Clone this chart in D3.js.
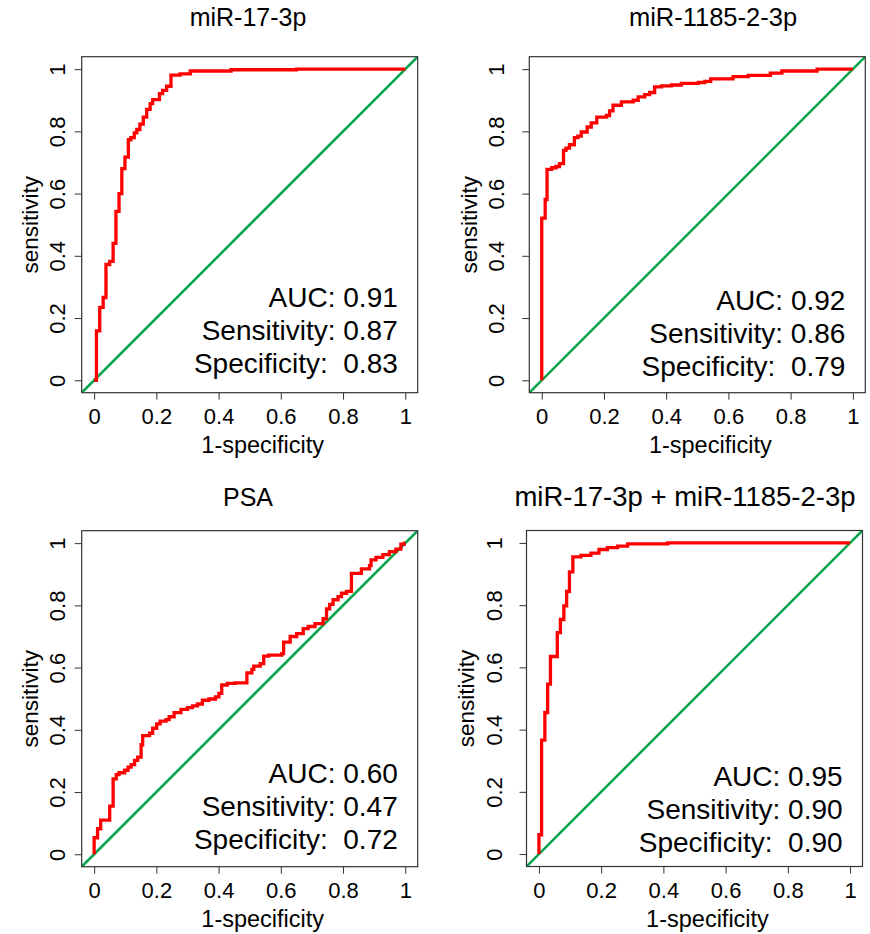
<!DOCTYPE html>
<html>
<head>
<meta charset="utf-8" />
<title>ROC curves</title>
<script src="https://d3js.org/d3.v7.min.js"></script>
<style>
  body { margin: 0; background: white; }
  text { font-family: "Liberation Sans", Arial, Helvetica, sans-serif; fill: black; }
</style>
</head>
<body>
<svg id="roc" width="870" height="934"></svg>

<script>
// panel titles
var titles = ["miR-17-3p", "miR-1185-2-3p", "PSA", "miR-17-3p + miR-1185-2-3p"];

// axis ticks
var tickValues = [0, 0.2, 0.4, 0.6, 0.8, 1];
var tickLabels = ["0", "0.2", "0.4", "0.6", "0.8", "1"];

// ROC steps: 1-specificity and sensitivity
var fpr17 = [0, 0.0075, 0.018, 0.029, 0.038, 0.05, 0.061, 0.07, 0.08, 0.089, 0.099, 0.11, 0.118, 0.129, 0.137, 0.147, 0.158, 0.169, 0.18, 0.188, 0.21, 0.22, 0.233, 0.247, 0.276, 0.309, 0.44, 0.65, 1];
var tpr17 = [0, 0.159, 0.234, 0.266, 0.372, 0.382, 0.44, 0.543, 0.60, 0.68, 0.717, 0.773, 0.78, 0.795, 0.806, 0.823, 0.846, 0.871, 0.889, 0.902, 0.921, 0.932, 0.945, 0.981, 0.985, 0.994, 0.998, 1, 1];

var fpr1185 = [0, 0, 0.011, 0.017, 0.032, 0.046, 0.057, 0.07, 0.078, 0.089, 0.105, 0.116, 0.127, 0.146, 0.159, 0.177, 0.208, 0.218, 0.229, 0.256, 0.294, 0.31, 0.331, 0.347, 0.363, 0.385, 0.417, 0.449, 0.503, 0.524, 0.543, 0.615, 0.664, 0.735, 0.772, 0.885, 1];
var tpr1185 = [0, 0.521, 0.581, 0.678, 0.683, 0.687, 0.696, 0.739, 0.746, 0.757, 0.78, 0.785, 0.798, 0.814, 0.827, 0.846, 0.851, 0.866, 0.884, 0.895, 0.9, 0.911, 0.918, 0.925, 0.943, 0.946, 0.949, 0.954, 0.957, 0.961, 0.969, 0.976, 0.98, 0.987, 0.994, 1, 1];

var fprPSA = [0, 0, 0.011, 0.021, 0.05, 0.061, 0.071, 0.08, 0.098, 0.109, 0.119, 0.13, 0.14, 0.151, 0.156, 0.178, 0.188, 0.201, 0.212, 0.231, 0.241, 0.257, 0.279, 0.3, 0.316, 0.332, 0.348, 0.369, 0.39, 0.401, 0.41, 0.428, 0.454, 0.491, 0.507, 0.513, 0.534, 0.545, 0.561, 0.603, 0.609, 0.63, 0.651, 0.672, 0.688, 0.71, 0.736, 0.747, 0.757, 0.768, 0.784, 0.795, 0.811, 0.827, 0.859, 0.885, 0.89, 0.906, 0.928, 0.949, 0.97, 0.986, 0.997, 1];
var tprPSA = [0, 0.053, 0.082, 0.11, 0.155, 0.242, 0.256, 0.262, 0.27, 0.28, 0.288, 0.302, 0.312, 0.352, 0.381, 0.389, 0.405, 0.419, 0.428, 0.433, 0.442, 0.455, 0.466, 0.471, 0.477, 0.483, 0.495, 0.499, 0.506, 0.517, 0.544, 0.549, 0.551, 0.583, 0.594, 0.605, 0.613, 0.637, 0.64, 0.645, 0.682, 0.70, 0.709, 0.725, 0.732, 0.741, 0.757, 0.789, 0.803, 0.818, 0.828, 0.839, 0.845, 0.903, 0.917, 0.928, 0.946, 0.954, 0.963, 0.973, 0.981, 0.997, 1, 1];

var fprCombo = [0, 0, 0.0085, 0.019, 0.028, 0.037, 0.059, 0.069, 0.08, 0.089, 0.098, 0.109, 0.135, 0.167, 0.193, 0.22, 0.253, 0.285, 0.414, 1];
var tprCombo = [0, 0.062, 0.366, 0.455, 0.546, 0.635, 0.712, 0.754, 0.798, 0.844, 0.907, 0.955, 0.96, 0.967, 0.979, 0.985, 0.99, 0.997, 1, 1];

// numbers written in each panel
var aucLabels = ["0.91", "0.92", "0.60", "0.95"];
var sensLabels = ["0.87", "0.86", "0.47", "0.90"];
var specLabels = ["0.83", "0.79", "0.72", "0.90"];

var curves = [[fpr17, tpr17], [fpr1185, tpr1185], [fprPSA, tprPSA], [fprCombo, tprCombo]];

// where each panel sits on the page
var panels = [
    {left: 81.7, top: 56.7, titleX: 248, titleY: 26, titleSize: 25, tickOff: 24.5, labOff: 51.5, noteOff: 0},
    {left: 529.3, top: 56.7, titleX: 713, titleY: 26, titleSize: 25.5, tickOff: 32.6, labOff: 60, noteOff: 3},
    {left: 81.7, top: 530.7, titleX: 248, titleY: 506, titleSize: 25, tickOff: 24.5, labOff: 51.5, noteOff: 2},
    {left: 526.5, top: 530.5, titleX: 685, titleY: 506, titleSize: 27.5, tickOff: 32.6, labOff: 60, noteOff: 5}
];

var boxSize = 336;
var svg = d3.select("#roc");

function drawPanel(i) {
    var p = panels[i];
    var x = d3.scaleLinear().domain([-0.04, 1.04]).range([0, boxSize]);
    var y = d3.scaleLinear().domain([-0.04, 1.04]).range([boxSize, 0]);

    var g = svg.append("g").attr("transform", "translate(" + p.left + "," + p.top + ")");

    g.append("clipPath").attr("id", "clip" + i)
        .append("rect").attr("width", boxSize).attr("height", boxSize);

    // chance line
    g.append("line")
        .attr("clip-path", "url(#clip" + i + ")")
        .attr("x1", x(-0.04)).attr("y1", y(-0.04))
        .attr("x2", x(1.04)).attr("y2", y(1.04))
        .style("stroke", "#0aa64f").style("stroke-width", 2.6);

    // roc curve
    var pts = d3.zip(curves[i][0], curves[i][1]);
    var line = d3.line()
        .x(function(d) { return x(d[0]); })
        .y(function(d) { return y(d[1]); })
        .curve(d3.curveStepAfter);
    g.append("path")
        .attr("d", line(pts))
        .style("fill", "none")
        .style("stroke", "#ff0000")
        .style("stroke-width", 3.3);

    // box
    g.append("rect")
        .attr("width", boxSize).attr("height", boxSize)
        .style("fill", "none").style("stroke", "#333").style("stroke-width", 1.2);

    // x axis
    var xAxis = d3.axisBottom(x).tickValues(tickValues)
        .tickFormat(function(d, k) { return tickLabels[k]; })
        .tickSize(7).tickPadding(9);
    var xg = g.append("g").attr("transform", "translate(0," + boxSize + ")").call(xAxis);
    xg.select(".domain").remove();
    xg.selectAll("line").style("stroke", "#333");
    xg.selectAll("text").style("font-size", "22px")
        .style("font-family", "Liberation Sans, Arial, sans-serif");

    // y axis, labels turned like in R
    var yAxis = d3.axisLeft(y).tickValues(tickValues)
        .tickFormat(function(d, k) { return tickLabels[k]; })
        .tickSize(7);
    var yg = g.append("g").call(yAxis);
    yg.select(".domain").remove();
    yg.selectAll("line").style("stroke", "#333");
    yg.selectAll("text")
        .attr("x", 0).attr("y", 0).attr("dy", "0.35em")
        .attr("text-anchor", "middle")
        .attr("transform", "translate(" + (-p.tickOff) + ",0) rotate(-90)")
        .style("font-size", "22px")
        .style("font-family", "Liberation Sans, Arial, sans-serif");

    // axis titles
    g.append("text")
        .attr("x", boxSize / 2 + 13).attr("y", boxSize + 52).attr("dy", "0.35em")
        .attr("text-anchor", "middle").style("font-size", "23.5px")
        .text("1-specificity");
    g.append("text")
        .attr("transform", "translate(" + (-p.labOff) + "," + (boxSize / 2) + ") rotate(-90)")
        .attr("dy", "0.35em")
        .attr("text-anchor", "middle").style("font-size", "22.5px")
        .text("sensitivity");

    // main title
    svg.append("text")
        .attr("x", p.titleX).attr("y", p.titleY)
        .attr("text-anchor", "middle").style("font-size", p.titleSize + "px")
        .text(titles[i]);

    // auc block
    var lines = ["AUC: " + aucLabels[i], "Sensitivity: " + sensLabels[i], "Specificity:\u00a0 " + specLabels[i]];
    g.selectAll(".note").data(lines).enter().append("text")
        .attr("class", "note")
        .attr("x", x(0.976))
        .attr("y", function(d, k) { return boxSize - 86 + p.noteOff + k * 33; })
        .attr("text-anchor", "end")
        .style("font-size", "28px")
        .text(function(d) { return d; });
}

for (var i = 0; i < panels.length; i++) {
    drawPanel(i);
}
</script>
</body>
</html>
